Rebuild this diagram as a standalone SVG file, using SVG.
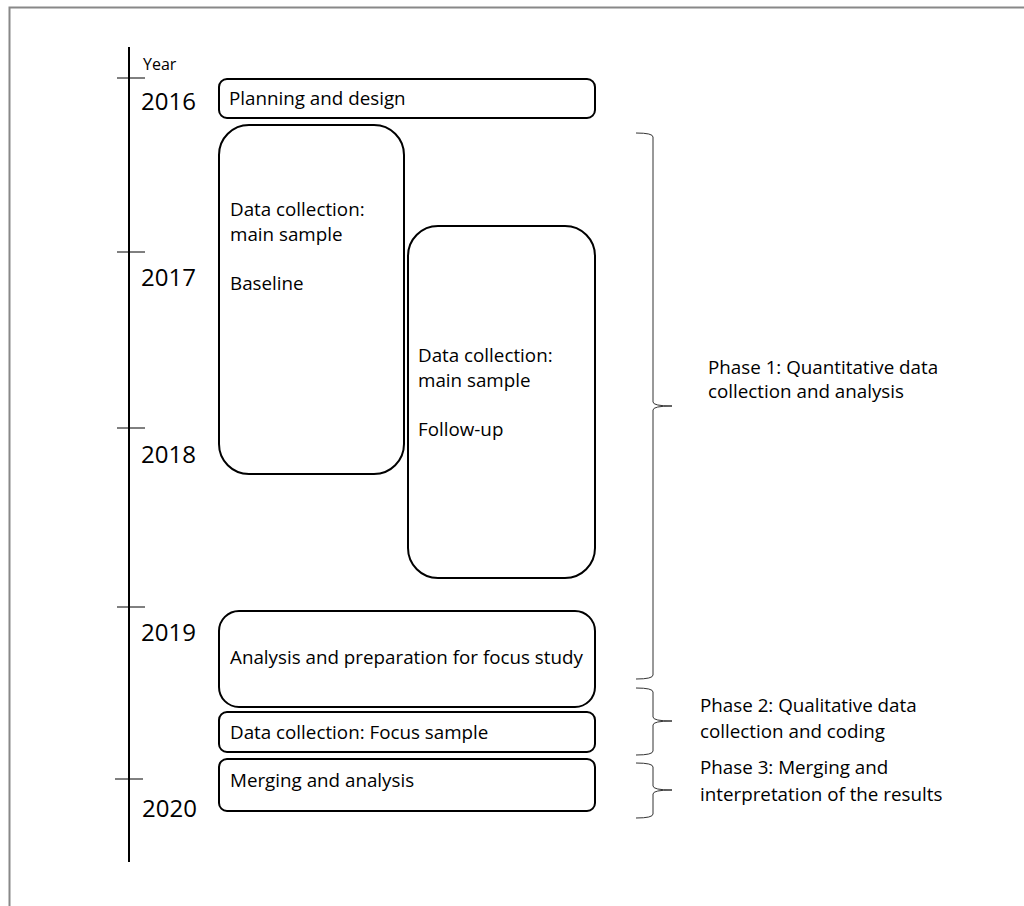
<svg xmlns="http://www.w3.org/2000/svg" width="1024" height="906" viewBox="0 0 1024 906">
<style>
  text { font-family: "Open Sans", "Liberation Sans", sans-serif; fill: #000; }
  .lbl { font-size: 18.8px; }
  .yr { font-size: 24px; }
  .box { fill: #fff; stroke: #000; stroke-width: 2; }
  .axis { stroke: #000; stroke-width: 2; fill: none; }
  .tick { stroke: #000; stroke-width: 1; fill: none; }
  .brace { stroke: #333; stroke-width: 1; fill: none; }
</style>
<rect width="1024" height="906" fill="#fff"/>
<path d="M9.5 906 V7.5 H1024" fill="none" stroke="#888" stroke-width="2"/>

<g id="axis">
  <line class="axis" x1="129" y1="47" x2="129" y2="862"/>
  <line class="tick" x1="117" y1="78" x2="145" y2="78"/>
  <line class="tick" x1="117" y1="252" x2="145" y2="252"/>
  <line class="tick" x1="117" y1="428" x2="145" y2="428"/>
  <line class="tick" x1="117" y1="607" x2="145" y2="607"/>
  <line class="tick" x1="115" y1="779" x2="143" y2="779"/>
  <text x="143" y="70" font-size="16">Year</text>
  <text class="yr" x="141" y="110">2016</text>
  <text class="yr" x="141" y="286">2017</text>
  <text class="yr" x="141" y="463">2018</text>
  <text class="yr" x="141" y="641">2019</text>
  <text class="yr" x="142" y="817">2020</text>
</g>

<g id="planning">
  <rect class="box" x="219" y="79" width="376" height="39" rx="8"/>
  <text class="lbl" x="229" y="105">Planning and design</text>
</g>

<g id="baseline">
  <rect class="box" x="219" y="125" width="185" height="349" rx="30"/>
  <text class="lbl" x="230" y="216">Data collection:</text>
  <text class="lbl" x="230" y="241">main sample</text>
  <text class="lbl" x="230" y="290">Baseline</text>
</g>

<g id="followup">
  <rect class="box" x="408" y="226" width="187" height="352" rx="30"/>
  <text class="lbl" x="418" y="362">Data collection:</text>
  <text class="lbl" x="418" y="387">main sample</text>
  <text class="lbl" x="418" y="436">Follow-up</text>
</g>

<g id="analysis">
  <rect class="box" x="219" y="611" width="376" height="96" rx="20"/>
  <text class="lbl" x="230" y="664">Analysis and preparation for focus study</text>
</g>

<g id="focus">
  <rect class="box" x="219" y="712" width="376" height="40" rx="8"/>
  <text class="lbl" x="230" y="739">Data collection: Focus sample</text>
</g>

<g id="merging">
  <rect class="box" x="219" y="759" width="376" height="52" rx="8"/>
  <text class="lbl" x="230" y="787">Merging and analysis</text>
</g>

<g id="connectors">
  <path class="brace" d="M636 133 Q653 133 653 137 V402 Q653 406 672 406 Q653 406 653 410 V675 Q653 679 636 679"/>
  <path class="brace" d="M636 688 Q653 688 653 692 V717 Q653 721 672 721 Q653 721 653 725 V751 Q653 755 636 755"/>
  <path class="brace" d="M636 763 Q653 763 653 767 V786 Q653 790 672 790 Q653 790 653 794 V814 Q653 818 636 818"/>
</g>

<g id="phase1">
  <text class="lbl" x="708" y="374">Phase 1: Quantitative data</text>
  <text class="lbl" x="708" y="398">collection and analysis</text>
</g>
<g id="phase2">
  <text class="lbl" x="700" y="712">Phase 2: Qualitative data</text>
  <text class="lbl" x="700" y="738">collection and coding</text>
</g>
<g id="phase3">
  <text class="lbl" x="700" y="774">Phase 3: Merging and</text>
  <text class="lbl" x="700" y="801">interpretation of the results</text>
</g>
</svg>
